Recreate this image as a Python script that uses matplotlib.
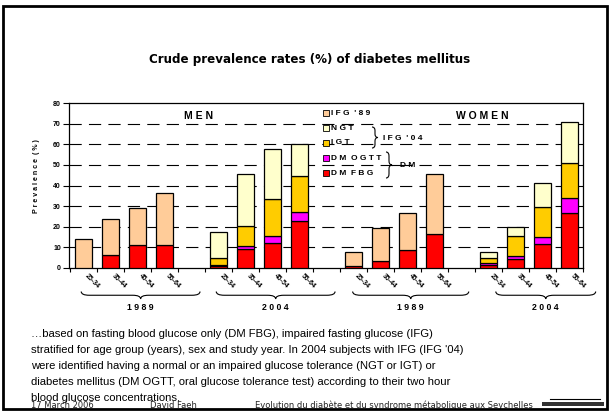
import numpy as np
import matplotlib
matplotlib.use("Agg")
import matplotlib.pyplot as plt
from matplotlib.path import Path
from matplotlib.patches import PathPatch, Rectangle

# ---------------- data ----------------
age_groups = ["25-34", "35-44", "45-54", "55-64"]
sexes = ["MEN", "MEN", "WOMEN", "WOMEN"]
years = ["1989", "2004", "1989", "2004"]

dm_fbg = [0.0, 6.5, 11.2, 11.2, 1.0, 9.4, 12.3, 22.6,
          0.8, 3.4, 8.9, 16.4, 1.6, 4.5, 11.4, 26.5]
dm_ogtt = [0, 0, 0, 0, 0.5, 1.1, 3.0, 4.5,
           0, 0, 0, 0, 1.0, 1.5, 3.4, 7.3]
igt = [0, 0, 0, 0, 3.2, 10.1, 18.1, 17.4,
       0, 0, 0, 0, 2.1, 9.7, 14.6, 17.0]
ngt = [0, 0, 0, 0, 12.7, 24.9, 24.2, 15.5,
       0, 0, 0, 0, 3.3, 4.3, 11.7, 19.8]
ifg89 = [14.3, 17.2, 17.7, 25.0, 0, 0, 0, 0,
         7.2, 16.2, 18.0, 29.4, 0, 0, 0, 0]

series_names = ["DM FBG", "DM OGTT", "IGT", "NGT", "IFG '89"]
series_colors = ["#FF0000", "#FF00FF", "#FFCC00", "#FFFFCC", "#FFCC99"]

title = "Crude prevalence rates (%) of diabetes mellitus"
para = ["\u2026based on fasting blood glucose only (DM FBG), impaired fasting glucose (IFG)",
        "stratified for age group (years), sex and study year. In 2004 subjects with IFG (IFG '04)",
        "were identified having a normal or an impaired glucose tolerance (NGT or IGT) or",
        "diabetes mellitus (DM OGTT, oral glucose tolerance test) according to their two hour",
        "blood glucose concentrations."]

W, H = 610, 412
fig = plt.figure(figsize=(W / 100, H / 100), dpi=100)
fig.patch.set_facecolor("white")

AF = ["Liberation Sans", "DejaVu Sans"]


def sp(s):
    # letter-spaced text (words separated by a wider gap)
    return "  ".join(" ".join(list(w)) for w in s.split(" "))


# axes placed in pixel terms
L, R, T, B = 68.5, 583, 103, 268
ax = fig.add_axes([L / W, 1 - B / H, (R - L) / W, (B - T) / H])

n = len(dm_fbg)
pos = np.array([g * 5 + i for g in range(4) for i in range(4)], dtype=float)
stack = [np.array(dm_fbg), np.array(dm_ogtt), np.array(igt), np.array(ngt), np.array(ifg89)]
bottom = np.zeros(n)
for vals, c in zip(stack, series_colors):
    m = vals > 0
    ax.bar(pos[m], vals[m], bottom=bottom[m], width=0.63, color=c,
           edgecolor="black", linewidth=0.9, zorder=3)
    bottom += vals

ax.set_xlim(-0.55, 18.5)
ax.set_ylim(0, 80)
ax.set_yticks(np.arange(0, 81, 10))
for v in range(10, 80, 10):
    ax.axhline(v, color="black", linewidth=0.8, dashes=(11, 6.5), zorder=1)
ax.set_xticks(np.arange(-0.5, 18.6, 1.0))
ax.set_xticklabels([])
ax.tick_params(axis="x", direction="out", length=3, width=0.8)
ax.tick_params(axis="y", direction="out", length=4, width=0.8, pad=1.5,
               labelsize=5)
for lab in ax.get_yticklabels():
    lab.set_fontweight("bold")
    lab.set_family(AF)
for s in ax.spines.values():
    s.set_linewidth(0.9)

# age labels
for p_, i in zip(pos, range(n)):
    ax.annotate(age_groups[i % 4], xy=(p_, 0), xycoords=("data", "axes fraction"),
                xytext=(6.5, -9.5), textcoords="offset points", rotation=-45,
                ha="center", va="center", rotation_mode="anchor",
                fontsize=5, fontweight="bold", family=AF)

# MEN / WOMEN labels
ax.text(0.252, 0.921, sp("MEN"), transform=ax.transAxes, ha="center", va="center",
        fontsize=7.5, fontweight="bold", family=AF)
ax.text(0.804, 0.921, sp("WOMEN"), transform=ax.transAxes, ha="center", va="center",
        fontsize=7.5, fontweight="bold", family=AF)

# overlay in pixel coordinates (y down)
ov = fig.add_axes([0, 0, 1, 1], zorder=5)
ov.set_xlim(0, W)
ov.set_ylim(H, 0)
ov.axis("off")
ov.patch.set_alpha(0)


def hbrace(x0, x1, ytop, depth, lw=0.8):
    h = depth / 2.0
    xm = (x0 + x1) / 2.0
    r = min(8.0, (x1 - x0) / 6.0)
    verts = [(x0, ytop), (x0, ytop + h), (x0 + r, ytop + h), (xm - r, ytop + h),
             (xm, ytop + h), (xm, ytop + depth), (xm, ytop + h), (xm + r, ytop + h),
             (x1 - r, ytop + h), (x1, ytop + h), (x1, ytop)]
    codes = [Path.MOVETO, Path.CURVE3, Path.CURVE3, Path.LINETO, Path.CURVE3, Path.CURVE3,
             Path.CURVE3, Path.CURVE3, Path.LINETO, Path.CURVE3, Path.CURVE3]
    ov.add_patch(PathPatch(Path(verts, codes), fill=False, lw=lw, edgecolor="black"))


def vbrace(y0, y1, xleft, depth, lw=0.8):
    h = depth / 2.0
    ym = (y0 + y1) / 2.0
    r = min(4.0, (y1 - y0) / 6.0)
    verts = [(xleft, y0), (xleft + h, y0), (xleft + h, y0 + r), (xleft + h, ym - r),
             (xleft + h, ym), (xleft + depth, ym), (xleft + h, ym), (xleft + h, ym + r),
             (xleft + h, y1 - r), (xleft + h, y1), (xleft, y1)]
    codes = [Path.MOVETO, Path.CURVE3, Path.CURVE3, Path.LINETO, Path.CURVE3, Path.CURVE3,
             Path.CURVE3, Path.CURVE3, Path.LINETO, Path.CURVE3, Path.CURVE3]
    ov.add_patch(PathPatch(Path(verts, codes), fill=False, lw=lw, edgecolor="black"))


fig.canvas.draw()


def px(xdata):
    return ax.transData.transform((xdata, 0))[0]


half_w = [2.2, 2.2, 2.15, 1.85]
for g in range(4):
    c = pos[g * 4:(g + 1) * 4].mean() + 0.62
    x0, x1 = px(c - half_w[g]), px(c + half_w[g])
    hbrace(x0, x1, 291.5, 7.5)
    ov.text(px(c), 307, sp(years[g]), ha="center", va="center", fontsize=6.3,
            fontweight="bold", family=AF)

# legend
leg_y = [113, 128, 143, 158, 173]
leg_order = [4, 3, 2, 1, 0]
for yy, k in zip(leg_y, leg_order):
    ov.add_patch(Rectangle((322.5, yy - 3), 6, 6, facecolor=series_colors[k],
                           edgecolor="black", lw=0.6))
    ov.text(331, yy, sp(series_names[k]), ha="left", va="center", fontsize=6,
            fontweight="bold", family=AF)
vbrace(127, 148, 372, 6)
ov.text(383, 138.5, sp("IFG '04"), ha="left", va="center", fontsize=6,
        fontweight="bold", family=AF)
vbrace(152, 178, 386, 6)
ov.plot([392, 400], [165, 165], color="black", lw=0.8)
ov.text(400, 165, sp("DM"), ha="left", va="center", fontsize=6,
        fontweight="bold", family=AF)

# y label
fig.text(36 / W, 1 - 176 / H, sp("Prevalence (%)"), rotation=90, ha="center", va="center",
         fontsize=5, fontweight="bold", family=AF)

# title
fig.text(310 / W, 1 - 59 / H, title, ha="center", va="center", fontsize=8.6,
         fontweight="bold", family="DejaVu Sans")

# paragraph
for i, line in enumerate(para):
    fig.text(31 / W, 1 - (334 + 16 * i) / H, line, ha="left", va="center",
             fontsize=8.1, family=AF)

# footer
fig.text(31 / W, 1 - 405 / H, "17 March 2006", ha="left", va="center", fontsize=6,
         family="DejaVu Sans", color="#222222")
fig.text(150 / W, 1 - 405 / H, "David Faeh", ha="left", va="center", fontsize=6,
         family="DejaVu Sans", color="#222222")
fig.text(255 / W, 1 - 405 / H,
         "Evolution du diab\u00e8te et du syndrome m\u00e9tabolique aux Seychelles",
         ha="left", va="center", fontsize=6, family="DejaVu Sans", color="#222222")

# slide frame
ov.add_patch(Rectangle((3, 6), 604, 403, fill=False, edgecolor="black", lw=2.0))
ov.add_patch(Rectangle((542, 402), 62, 4, facecolor="#333333", edgecolor="none"))
ov.plot([550, 600], [399, 399], color="black", lw=0.8)

fig.savefig("out.png", dpi=100)
